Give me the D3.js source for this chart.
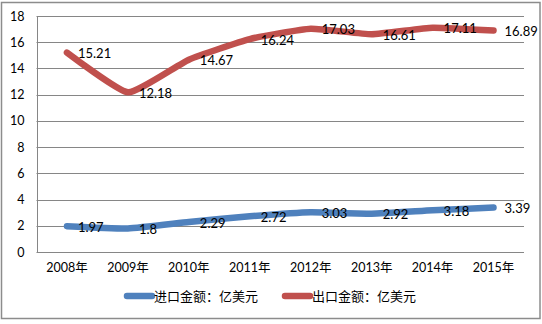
<!DOCTYPE html>
<html><head><meta charset="utf-8">
<script src="https://cdn.jsdelivr.net/npm/d3@7"></script>
<style>
html,body{margin:0;padding:0;background:#fff;}
svg{display:block;}
text{font-family:Lato,"Noto Sans CJK SC",sans-serif;}
</style></head>
<body>
<script>
const years = ["2008年","2009年","2010年","2011年","2012年","2013年","2014年","2015年"];
const importValues = [1.97, 1.8, 2.29, 2.72, 3.03, 2.92, 3.18, 3.39];
const exportValues = [15.21, 12.18, 14.67, 16.24, 17.03, 16.61, 17.11, 16.89];
const yTicks = [0, 2, 4, 6, 8, 10, 12, 14, 16, 18];
const seriesNames = ["进口金额：亿美元", "出口金额：亿美元"];
const seriesColors = ["#4F81BD", "#C0504D"];

const W = 542, H = 324;
const plot = {left: 36.5, right: 524, top: 16, bottom: 252};

const svg = d3.select("body").append("svg").attr("width", W).attr("height", H);

// outer frame
svg.append("rect").attr("x", 1.5).attr("y", 2.5).attr("width", 538.5).attr("height", 316)
  .attr("fill", "#fff").attr("stroke", "#8c8c8c").attr("stroke-width", 1.5);

const x = d3.scaleBand().domain(years).range([plot.left, plot.right]);
const y = d3.scaleLinear().domain([0, 18]).range([plot.bottom, plot.top]);

// horizontal gridlines
svg.append("g").selectAll("line").data(yTicks).join("line")
  .attr("x1", plot.left).attr("x2", plot.right)
  .attr("y1", d => Math.round(y(d)) + 0.5).attr("y2", d => Math.round(y(d)) + 0.5)
  .attr("stroke", "#868686").attr("stroke-width", 1);

// value axis line
svg.append("line").attr("x1", Math.round(plot.left) + 0.5).attr("x2", Math.round(plot.left) + 0.5)
  .attr("y1", plot.top).attr("y2", plot.bottom + 0.5).attr("stroke", "#868686");

// y tick labels
const yAxis = d3.axisLeft(y).tickValues(yTicks).tickSize(0).tickPadding(12);
const gy = svg.append("g").attr("transform", `translate(${plot.left},0)`).call(yAxis);
gy.select(".domain").remove();
gy.selectAll("text").attr("font-size", 12.5).attr("fill", "#000").attr("font-family", "Lato,sans-serif");

// x tick labels
const xAxis = d3.axisBottom(x).tickSize(0).tickPadding(11);
const gx = svg.append("g").attr("transform", `translate(0,${plot.bottom})`).call(xAxis);
gx.select(".domain").remove();
gx.selectAll("text").attr("font-size", 12.5).attr("fill", "#000")
  .attr("font-family", "Lato,'Noto Sans CJK SC',sans-serif");

const cx = d => x(d) + x.bandwidth() / 2;
const line = d3.line().x((d, i) => cx(years[i])).y(d => y(d)).curve(d3.curveCardinal.tension(0.55));

[importValues, exportValues].forEach((vals, s) => {
  svg.append("path").datum(vals).attr("d", line)
    .attr("fill", "none").attr("stroke", seriesColors[s]).attr("stroke-width", 6.5)
    .attr("stroke-linecap", "round").attr("stroke-linejoin", "round");
});

// data labels to the right of each point
[importValues, exportValues].forEach((vals, s) => {
  svg.append("g").selectAll("text").data(vals).join("text")
    .attr("x", (d, i) => cx(years[i]) + 11)
    .attr("y", d => y(d) + 1)
    .attr("dy", "0.35em")
    .attr("font-size", 13).attr("fill", "#000")
    .text(d => d);
});

// legend
const legend = [{x0: 125, x1: 154}, {x0: 283, x1: 312}];
legend.forEach((p, s) => {
  const g = svg.append("g");
  g.append("line").attr("x1", p.x0 + 2).attr("x2", p.x1 - 2).attr("y1", 296).attr("y2", 296)
    .attr("stroke", seriesColors[s]).attr("stroke-width", 6.5).attr("stroke-linecap", "round");
  g.append("text").attr("x", p.x1).attr("y", 296).attr("dy", "0.35em")
    .attr("font-size", 13).attr("fill", "#000")
    .attr("font-family", "'Noto Sans CJK SC',sans-serif")
    .text(seriesNames[s]);
});
</script>
</body></html>
